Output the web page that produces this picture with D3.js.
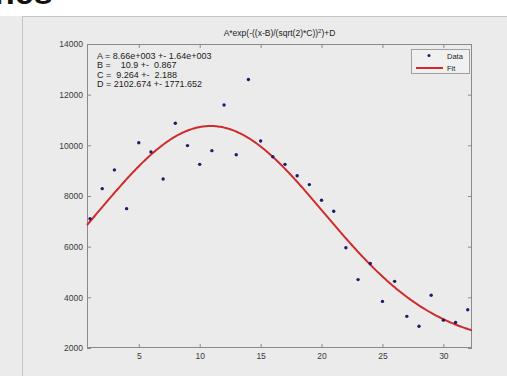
<!DOCTYPE html>
<html>
<head>
<meta charset="utf-8">
<script src="https://cdn.jsdelivr.net/npm/d3@7"></script>
<style>
  html, body { margin: 0; padding: 0; background: #ffffff; }
  svg { display: block; font-family: "Liberation Sans", Arial, sans-serif; }
</style>
</head>
<body>
<svg id="chart" width="507" height="376"></svg>
<script>
// Measured samples
const xValues = [1, 2, 3, 4, 5, 6, 7, 8, 9, 10, 11, 12, 13, 14, 15, 16,
                 17, 18, 19, 20, 21, 22, 23, 24, 25, 26, 27, 28, 29, 30, 31, 32];
const yValues = [7100, 8290, 9030, 7500, 10100, 9740, 8670, 10870, 9990, 9250, 9790, 11590, 9630, 12600, 10170, 9550,
                 9250, 8800, 8450, 7830, 7400, 5960, 4700, 5340, 3840, 4630, 3250, 2860, 4080, 3100, 3010, 3510];

// Gaussian fit parameters: A, B, C, D
const fitParams = [8660, 10.9, 9.264, 2102.674];
const fitLabels = [
  "A = 8.66e+003 +- 1.64e+003",
  "B =    10.9 +-  0.867",
  "C =  9.264 +-  2.188",
  "D = 2102.674 +- 1771.652"
];

const xTicks = [5, 10, 15, 20, 25, 30];
const yTicks = [2000, 4000, 6000, 8000, 10000, 12000, 14000];
const xDomain = [0.75, 32.35];
const yDomain = [2000, 14000];

const svg = d3.select("#chart");
const W = 507, H = 376;
const plot = { left: 87, right: 472, top: 44, bottom: 348 };

// Figure window background and frame
svg.append("rect").attr("x", 0).attr("y", 0).attr("width", W).attr("height", H).attr("fill", "#ffffff");
svg.append("rect").attr("x", 0).attr("y", 16).attr("width", W).attr("height", H - 16).attr("fill", "#ebebeb");
svg.append("line").attr("x1", 22.5).attr("x2", 22.5).attr("y1", 16).attr("y2", H)
  .attr("stroke", "#c4c4c4").attr("stroke-width", 1);
svg.append("line").attr("x1", 22).attr("x2", W).attr("y1", 16.5).attr("y2", 16.5)
  .attr("stroke", "#c4c4c4").attr("stroke-width", 1);
svg.append("text").attr("x", -6).attr("y", 4).attr("font-size", 34).attr("font-weight", "bold")
  .attr("fill", "#111").text("nes");

const x = d3.scaleLinear().domain(xDomain).range([plot.left, plot.right]);
const y = d3.scaleLinear().domain(yDomain).range([plot.bottom, plot.top]);

const axisColor = "#8a8a8a";
const labelColor = "#3a3a3a";

// Axes box
svg.append("rect")
  .attr("x", plot.left + 0.5).attr("y", plot.top + 0.5)
  .attr("width", plot.right - plot.left - 1).attr("height", plot.bottom - plot.top - 1)
  .attr("fill", "none").attr("stroke", axisColor).attr("stroke-width", 1);

function styleAxis(g) {
  g.select(".domain").remove();
  g.selectAll(".tick line").attr("stroke", axisColor);
  g.selectAll(".tick text").attr("fill", labelColor).attr("font-size", 8.5)
    .attr("font-family", "'Liberation Sans', Arial, sans-serif");
}

// Bottom axis with inward ticks
svg.append("g").attr("transform", `translate(0,${plot.bottom})`)
  .call(d3.axisBottom(x).tickValues(xTicks).tickSizeInner(-4).tickSizeOuter(0).tickPadding(5))
  .call(styleAxis);
// Top axis ticks
svg.append("g").attr("transform", `translate(0,${plot.top})`)
  .call(d3.axisTop(x).tickValues(xTicks).tickSizeInner(-4).tickSizeOuter(0).tickFormat(""))
  .call(styleAxis);
// Left axis with inward ticks
svg.append("g").attr("transform", `translate(${plot.left},0)`)
  .call(d3.axisLeft(y).tickValues(yTicks).tickSizeInner(-4).tickSizeOuter(0).tickPadding(4).tickFormat(d3.format("d")))
  .call(styleAxis);
// Right axis ticks
svg.append("g").attr("transform", `translate(${plot.right},0)`)
  .call(d3.axisRight(y).tickValues(yTicks).tickSizeInner(-4).tickSizeOuter(0).tickFormat(""))
  .call(styleAxis);

// Fit curve
const [A, B, C, D] = fitParams;
const gauss = t => A * Math.exp(-Math.pow((t - B) / (Math.sqrt(2) * C), 2)) + D;
const curveX = d3.range(0, 301).map(i => xDomain[0] + (xDomain[1] - xDomain[0]) * i / 300);
svg.append("path")
  .datum(curveX)
  .attr("fill", "none").attr("stroke", "#d02a2a").attr("stroke-width", 2)
  .attr("d", d3.line().x(d => x(d)).y(d => y(gauss(d))));

// Data points
svg.append("g").selectAll("circle")
  .data(xValues.map((v, i) => [v, yValues[i]]))
  .join("circle")
  .attr("cx", d => x(d[0])).attr("cy", d => y(d[1]))
  .attr("r", 1.7).attr("fill", "#1c1c6a");

// Title with superscript
const title = svg.append("text")
  .attr("x", (plot.left + plot.right) / 2).attr("y", 36)
  .attr("text-anchor", "middle").attr("font-size", 8.5).attr("fill", "#222");
title.append("tspan").text("A*exp(-((x-B)/(sqrt(2)*C))");
title.append("tspan").attr("font-size", 6).attr("dy", -3).text("2");
title.append("tspan").attr("dy", 3).text(")+D");

// Fit parameter annotation
svg.append("g").selectAll("text")
  .data(fitLabels)
  .join("text")
  .attr("x", 97).attr("y", (d, i) => 58.5 + i * 9.6)
  .attr("font-size", 9).attr("fill", "#222")
  .attr("xml:space", "preserve")
  .style("white-space", "pre")
  .text(d => d);

// Legend
const lg = svg.append("g");
lg.append("rect").attr("x", 411.5).attr("y", 49.5).attr("width", 58).attr("height", 24)
  .attr("fill", "#f0f0f0").attr("stroke", "#a0a0a0").attr("stroke-width", 1);
lg.append("circle").attr("cx", 429).attr("cy", 55.5).attr("r", 1.5).attr("fill", "#1c1c6a");
lg.append("text").attr("x", 447).attr("y", 59).attr("font-size", 7.5).attr("fill", "#222").text("Data");
lg.append("line").attr("x1", 416).attr("x2", 443).attr("y1", 68).attr("y2", 68)
  .attr("stroke", "#d02a2a").attr("stroke-width", 2);
lg.append("text").attr("x", 447).attr("y", 71).attr("font-size", 7.5).attr("fill", "#222").text("Fit");
</script>
</body>
</html>
